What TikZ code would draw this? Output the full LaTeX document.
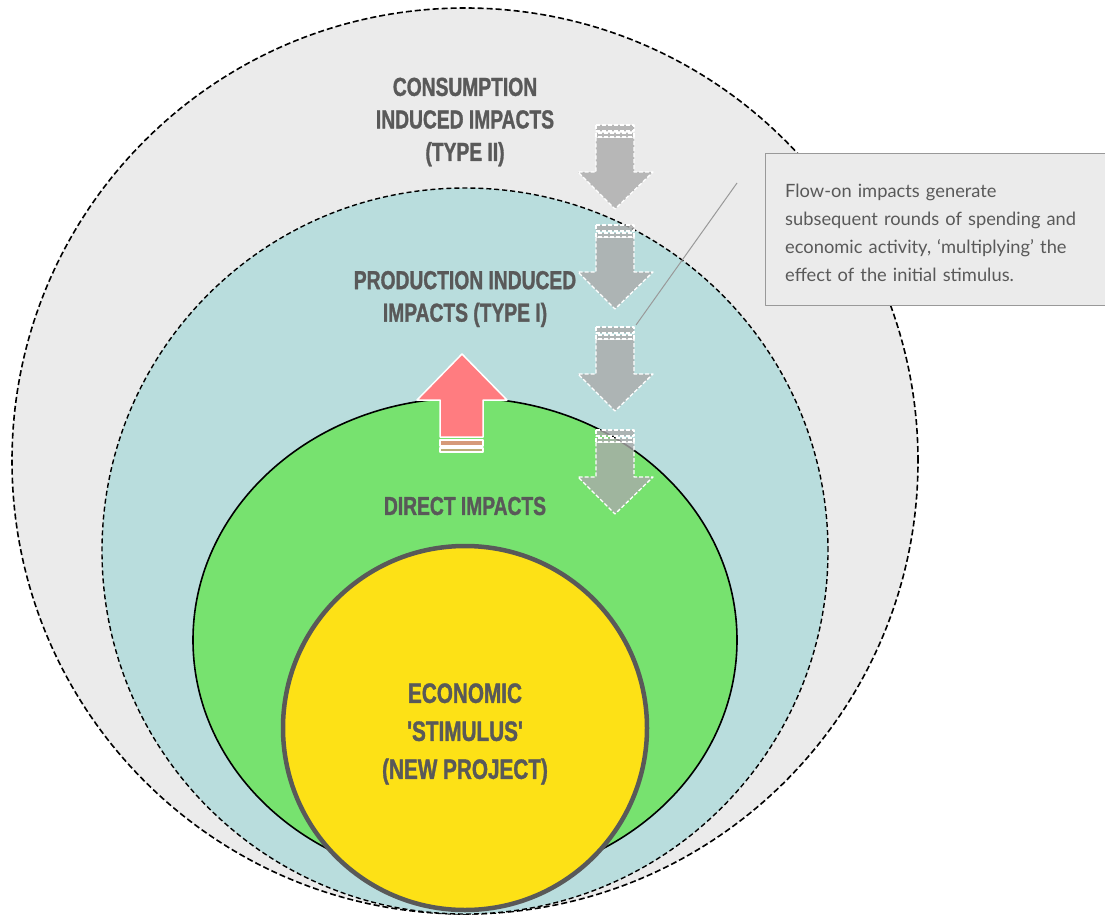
\documentclass[tikz,border=0pt]{standalone}
\usepackage{fontspec}
\setmainfont{Lato}
\newfontfamily\headfont[FakeStretch=0.74,FakeBold=1.2]{Liberation Sans}
\definecolor{outerbg}{RGB}{235,235,235}
\definecolor{prodbg}{RGB}{185,221,221}
\definecolor{directbg}{RGB}{119,226,111}
\definecolor{stimbg}{RGB}{253,225,22}
\definecolor{txtgrey}{RGB}{89,89,89}
\definecolor{flowgrey}{RGB}{170,170,170}
\definecolor{risered}{RGB}{255,124,128}
\begin{document}
\begin{tikzpicture}[x=1pt, y=-1pt, line join=round,
  head/.style={text=txtgrey, font=\headfont\bfseries\fontsize{26}{32.5}\selectfont, align=center},
  flow/.style={fill=flowgrey, fill opacity=0.8, draw=white, draw opacity=1, dash pattern=on 4pt off 2pt, line width=1.3pt},
  rise/.style={fill=risered, draw=white, line width=1.5pt},
  callout/.style={draw=black!40, fill=outerbg, line width=1pt, minimum width=345pt, minimum height=152pt, inner sep=0pt}]
\useasboundingbox (0,0) rectangle (1105,915);
% rings
\draw[fill=outerbg, dash pattern=on 6pt off 3pt, line width=1.6pt] (465,461) circle (453pt);
\draw[fill=prodbg, dash pattern=on 5pt off 3pt, line width=1.4pt] (465,551) circle (363pt);
\draw[fill=directbg, line width=1.6pt] (465,640) ellipse (272pt and 242pt);
\draw[fill=stimbg, draw=txtgrey, line width=4.5pt] (465,728) circle (182pt);
% labels
\node[head] (cons) at (465,122) {CONSUMPTION\\INDUCED IMPACTS\\(TYPE II)};
\node[head] (prod) at (465,299) {PRODUCTION INDUCED\\IMPACTS (TYPE I)};
\node[head] (direct) at (465,506) {DIRECT IMPACTS};
\node[head, font=\headfont\bfseries\fontsize{28}{38}\selectfont] (stim) at (465,734) {ECONOMIC\\'STIMULUS'\\(NEW PROJECT)};
% red arrow up
\draw[rise] (440,400) -- (417,400) -- (462,354) -- (507,400) -- (483,400) -- (483,437) -- (440,437) -- cycle;
\draw[rise, fill opacity=0.7, line width=1.2pt] (440,440) rectangle (483,446);
\draw[rise, fill opacity=0.5, line width=1.2pt] (440,448) rectangle (483,452);
% flow-on arrows
\foreach \t in {125,225,327,430}{
  \draw[flow] (596,\t+12) -- (634,\t+12) -- (634,\t+47) -- (653,\t+47) -- (615,\t+84) -- (578,\t+47) -- (596,\t+47) -- cycle;
  \draw[flow] (596,\t) rectangle (634,\t+6);
  \draw[flow] (596,\t+8) rectangle (634,\t+12);
}
% note
\node[callout, anchor=north west] (note) at (765,153) {};
\node[anchor=north west, text=txtgrey, font=\fontsize{18.3}{28}\selectfont, text width=320pt, align=left, inner sep=0pt] (notetxt) at (785,184) {Flow-on impacts generate\\subsequent rounds of spending and\\economic activity, ‘multiplying’ the\\effect of the initial stimulus.};
\coordinate (lead) at (737,183);
\coordinate (aim) at (636,325);
\draw[black!40, line width=1pt] (lead) -- (aim);
\end{tikzpicture}
\end{document}
